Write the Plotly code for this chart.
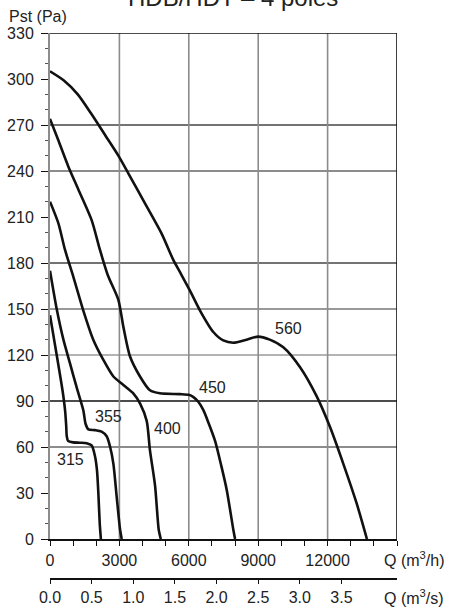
import plotly.graph_objects as go

# ---- data ----
Q315 = [0, 200, 400, 550, 650, 700, 725, 780, 1000, 1300, 1585, 1800, 1945, 2030, 2090, 2150, 2200]
P315 = [146, 128, 110, 96, 84, 74, 67, 64, 63, 62.8, 62.4, 61, 54, 45, 30, 10, 0]

Q355 = [0, 290, 580, 865, 1150, 1440, 1540, 1660, 1945, 2230, 2450, 2600, 2740, 2880, 3030, 3100]
P355 = [175, 150, 130, 114.5, 99, 84, 75, 71.5, 71, 70, 67, 60, 49, 28, 6, 0]

Q400 = [0, 360, 650, 1010, 1440, 1870, 2300, 2740, 3170, 3600, 3890, 4180, 4320, 4540, 4700, 4790]
P400 = [220, 206, 188.5, 171, 149, 130, 117, 106, 100.5, 95, 88.5, 77, 58, 35, 6, 0]

Q450 = [0, 360, 790, 1225, 1800, 2160, 2500, 2955, 3170, 3460, 3890, 4320, 4750, 5620, 6000, 6200, 6410, 6630, 6845, 7135, 7400, 7640, 7925, 8000]
P450 = [274, 260, 243, 228, 208, 188.5, 172, 156, 138.5, 119, 106, 97, 95, 94.5, 94, 92.5, 89.5, 84, 76, 64, 48, 32, 6, 0]

Q560 = [0, 600, 1200, 1800, 2400, 2955, 3385, 4100, 4830, 5330, 5620, 6050, 6485, 7060, 7490, 7925, 8500, 9000, 9500, 10085, 10810, 11530, 12105, 12680, 13260, 13700]
P560 = [305, 299, 290, 277, 263, 250, 238.5, 219, 199, 182, 174, 162, 149, 135, 129.5, 128, 130, 132, 130, 125, 112, 93, 73, 49, 23, 0]

SERIES = [("315", Q315, P315), ("355", Q355, P355), ("400", Q400, P400),
          ("450", Q450, P450), ("560", Q560, P560)]

LABEL_Q = [905, 2550, 5080, 7025, 10330]
LABEL_P = [52, 80, 72, 99, 137]

Y_TICKS = [0, 30, 60, 90, 120, 150, 180, 210, 240, 270, 300, 330]
X_TICKS = [0, 3000, 6000, 9000, 12000]
X2_TICKS = [0.0, 0.5, 1.0, 1.5, 2.0, 2.5, 3.0, 3.5]
GRID_Y = [60, 90, 120, 150, 180, 240, 270]
GRID_Y_COLORS = ["#666666", "#111111", "#9a9a9a", "#777777", "#444444", "#666666", "#444444"]
GRID_X = [3000, 6000, 9000, 12000]

Q_MAX = 15000
P_MAX = 330

FONT = "Arial, Liberation Sans, sans-serif"
TXT = "#222222"

fig = go.Figure()

for name, q, p in SERIES:
    fig.add_trace(go.Scatter(x=q, y=p, mode="lines", name=name,
                             line=dict(color="#111111", width=2.6, shape="spline", smoothing=0.7),
                             showlegend=False, hoverinfo="skip"))

# invisible trace to activate the m3/s axis
fig.add_trace(go.Scatter(x=[0, Q_MAX / 3600], y=[0, 0], xaxis="x2", yaxis="y",
                         mode="lines", line=dict(width=0, color="rgba(0,0,0,0)"),
                         showlegend=False, hoverinfo="skip"))

shapes = []
for gy, col in zip(GRID_Y, GRID_Y_COLORS):
    shapes.append(dict(type="line", xref="x", yref="y", x0=0, x1=Q_MAX, y0=gy, y1=gy,
                       line=dict(color=col, width=1.4), layer="below"))
for gx in GRID_X:
    shapes.append(dict(type="line", xref="x", yref="y", x0=gx, x1=gx, y0=0, y1=P_MAX,
                       line=dict(color="#8c8c8c", width=1.6), layer="below"))
# top and right borders
shapes.append(dict(type="line", xref="x", yref="y", x0=0, x1=Q_MAX, y0=P_MAX, y1=P_MAX,
                   line=dict(color="#111111", width=1.6)))
shapes.append(dict(type="line", xref="x", yref="y", x0=Q_MAX, x1=Q_MAX, y0=0, y1=P_MAX,
                   line=dict(color="#111111", width=1.6)))

annotations = []
for (name, _, _), lq, lp in zip(SERIES, LABEL_Q, LABEL_P):
    annotations.append(dict(x=lq, y=lp, xref="x", yref="y", text=name, showarrow=False,
                            font=dict(size=16, color=TXT, family=FONT)))

W, H = 453, 609
L, R, T, B = 50, 56, 33, 30
ph = H - T - B
def py(pix):
    return (H - B - pix) / ph
def px(pix):
    return (pix - L) / (W - L - R)

annotations += [
    dict(x=px(7), y=py(16), xref="paper", yref="paper", xanchor="left", yanchor="middle",
         text="Pst (Pa)", showarrow=False, font=dict(size=16, color=TXT, family=FONT)),
    dict(x=px(382), y=py(559), xref="paper", yref="paper", xanchor="left", yanchor="middle",
         text="Q (m<sup>3</sup>/h)", showarrow=False, font=dict(size=16, color=TXT, family=FONT)),
    dict(x=px(382), y=py(597), xref="paper", yref="paper", xanchor="left", yanchor="middle",
         text="Q (m<sup>3</sup>/s)", showarrow=False, font=dict(size=16, color=TXT, family=FONT)),
    dict(x=px(233), y=py(13), xref="paper", yref="paper", xanchor="center", yanchor="bottom",
         text="HDB/HDT – 4 poles", showarrow=False, font=dict(size=24, color=TXT, family=FONT)),
]

fig.update_layout(
    width=W, height=H,
    margin=dict(l=L, r=R, t=T, b=B, pad=0, autoexpand=False),
    paper_bgcolor="white", plot_bgcolor="white",
    font=dict(family=FONT, size=16, color=TXT),
    shapes=shapes, annotations=annotations,
    xaxis=dict(range=[0, Q_MAX], tickvals=X_TICKS, ticktext=[str(v) for v in X_TICKS],
               ticks="outside", ticklen=5, tickwidth=1.4, tickcolor="#111111",
               minor=dict(dtick=1000, ticks="outside", ticklen=5, tickwidth=1.4, tickcolor="#111111"),
               showline=True, linecolor="#111111", linewidth=1.6, showgrid=False,
               zeroline=False, anchor="y", ticklabelstandoff=1, fixedrange=True, automargin=False,
               tickfont=dict(size=16, color=TXT, family=FONT)),
    xaxis2=dict(range=[0, Q_MAX / 3600], overlaying="x", anchor="free", position=0, side="bottom",
                tickvals=X2_TICKS, ticktext=[f"{v:.1f}" for v in X2_TICKS],
                ticks="outside", ticklen=4, tickwidth=1.4, tickcolor="#111111",
                showline=True, linecolor="#111111", linewidth=1.6, showgrid=False,
                zeroline=False, ticklabelstandoff=0, fixedrange=True, automargin=False,
                tickfont=dict(size=16, color=TXT, family=FONT)),
    yaxis=dict(range=[0, P_MAX], domain=[40 / ph, 1], tickvals=Y_TICKS,
               ticks="outside", ticklen=7, tickwidth=1.4, tickcolor="#111111",
               minor=dict(dtick=10, ticks="outside", ticklen=3, tickwidth=1.4, tickcolor="#555555"),
               showline=True, linecolor="#8c8c8c", linewidth=2, showgrid=False,
               zeroline=False, ticklabelstandoff=4, fixedrange=True, automargin=False,
               tickfont=dict(size=16, color=TXT, family=FONT)),
)

fig.write_html("out.html")
